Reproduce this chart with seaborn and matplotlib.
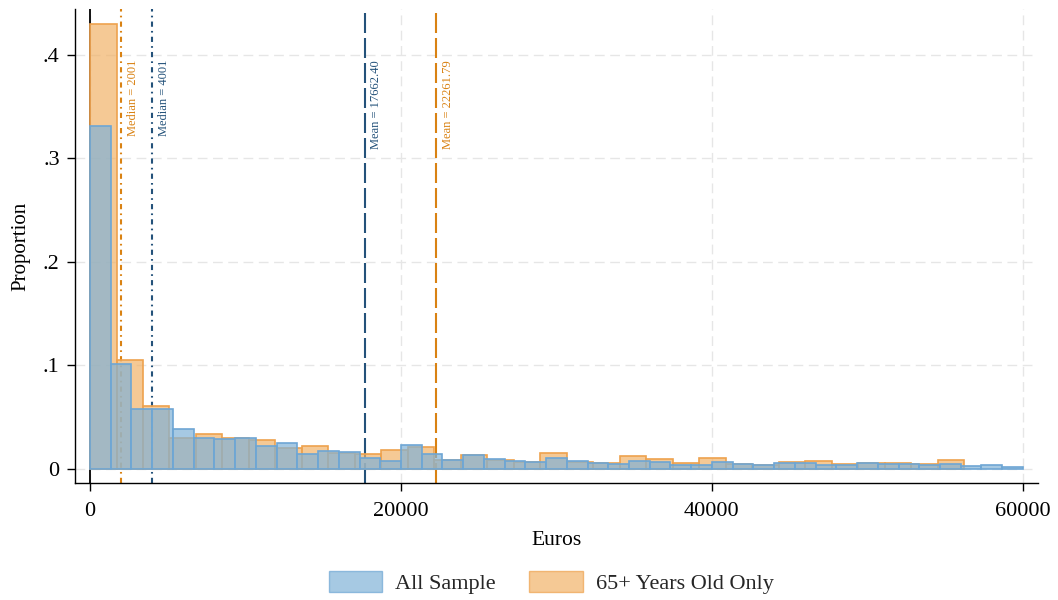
import numpy as np
import pandas as pd
import matplotlib
matplotlib.use("Agg")
import matplotlib.pyplot as plt
import matplotlib.transforms as mtransforms
from matplotlib.patches import Patch
import seaborn as sns

# histogram bins
all_nbins, all_top = 45, 60000.0
old_nbins, old_top = 33, 56225.0

# share of people per bin (fraction)
all_share = [0.331, 0.1013, 0.058, 0.058, 0.038, 0.030, 0.0284, 0.030, 0.0216, 0.025,
             0.0145, 0.0168, 0.016, 0.0103, 0.0074, 0.0226, 0.0142, 0.0087, 0.0129, 0.0097,
             0.0074, 0.006, 0.0106, 0.0071, 0.0054, 0.0048, 0.0074, 0.006, 0.0039, 0.0039,
             0.0068, 0.0045, 0.0032, 0.0054, 0.005, 0.0039, 0.0032, 0.0054, 0.004, 0.0048,
             0.0032, 0.0048, 0.0026, 0.0035, 0.0013]
old_share = [0.430, 0.105, 0.0606, 0.030, 0.0339, 0.0295, 0.0277, 0.020, 0.0219, 0.0155,
             0.0145, 0.0177, 0.021, 0.008, 0.0135, 0.0085, 0.006, 0.0155, 0.0068, 0.005,
             0.0122, 0.0097, 0.0058, 0.0106, 0.004, 0.0035, 0.006, 0.0071, 0.004, 0.0058,
             0.0054, 0.0048, 0.0084]

all_mean, all_median = 17662.40, 4001
old_mean, old_median = 22261.79, 2001

blue = "#80b2d8"
blue_edge = "#6ea6d4"
orange = "#f1b268"
orange_edge = "#eea24e"
navy = "#24527a"
dark_orange = "#d98213"

sns.set_theme(style="white")
plt.rcParams["font.family"] = ["Liberation Serif", "DejaVu Serif"]

fig, ax = plt.subplots(figsize=(10.58, 6), dpi=100)
fig.subplots_adjust(left=0.0709, right=0.981, bottom=0.195, top=0.985)

all_edges = np.linspace(0, all_top, all_nbins + 1)
old_edges = np.linspace(0, old_top, old_nbins + 1)
df_all = pd.DataFrame({"euros": (all_edges[:-1] + all_edges[1:]) / 2, "share": all_share})
df_old = pd.DataFrame({"euros": (old_edges[:-1] + old_edges[1:]) / 2, "share": old_share})

sns.histplot(data=df_old, x="euros", weights="share", bins=list(old_edges), stat="count",
             color=orange, edgecolor=orange_edge, alpha=0.7, linewidth=1.2, ax=ax, zorder=2)
sns.histplot(data=df_all, x="euros", weights="share", bins=list(all_edges), stat="count",
             color=blue, edgecolor=blue_edge, alpha=0.7, linewidth=1.2, ax=ax, zorder=2)

ax.axvline(0, color="black", lw=1.3, zorder=1)

ax.axvline(old_median, color=dark_orange, lw=1.5, ls=(0, (2.5, 2, 0.8, 2)), zorder=1.5)
ax.axvline(all_median, color=navy, lw=1.5, ls=(0, (2.5, 2, 0.8, 2)), zorder=1.5)
ax.axvline(all_mean, color=navy, lw=1.5, ls=(0, (9.6, 2.4)), zorder=1.5)
ax.axvline(old_mean, color=dark_orange, lw=1.5, ls=(0, (9.6, 2.4)), zorder=1.5)

shift = mtransforms.offset_copy(ax.transData, fig=fig, x=4, y=0, units="points")
labels = [
    (old_median, f"Median = {old_median}", dark_orange),
    (all_median, f"Median = {all_median}", navy),
    (all_mean, f"Mean = {all_mean:.2f}", navy),
    (old_mean, f"Mean = {old_mean:.2f}", dark_orange),
]
for xv, txt, col in labels:
    ax.text(xv, 0.395, txt, rotation=90, ha="left", va="top", color=col,
            fontsize=9, transform=shift)

ax.set_xlim(-965, 60965)
ax.set_ylim(-0.0139, 0.4443)
ax.set_xticks([0, 20000, 40000, 60000])
ax.set_xticklabels(["0", "20000", "40000", "60000"])
ax.set_yticks([0, 0.1, 0.2, 0.3, 0.4])
ax.set_yticklabels(["0", ".1", ".2", ".3", ".4"])

ax.grid(True, color="#e6e6e6", lw=1, ls=(0, (7, 4)))
ax.set_axisbelow(True)
for s in ["top", "right"]:
    ax.spines[s].set_visible(False)
for s in ["left", "bottom"]:
    ax.spines[s].set_color("black")
    ax.spines[s].set_linewidth(1)
ax.tick_params(axis="both", which="major", length=6, width=1, color="black",
               labelsize=16, pad=5, bottom=True, left=True, labelcolor="black")
ax.tick_params(axis="x", pad=8)

ax.set_xlabel("Euros", fontsize=15.5, color="black", labelpad=7)
ax.set_ylabel("Proportion", fontsize=15, color="black", labelpad=9)

handles = [Patch(facecolor=blue, edgecolor=blue_edge, alpha=0.7, label="All Sample"),
           Patch(facecolor=orange, edgecolor=orange_edge, alpha=0.7, label="65+ Years Old Only")]
fig.legend(handles=handles, loc="center", bbox_to_anchor=(0.521, 0.029), ncol=2,
           frameon=False, fontsize=16, handlelength=2.4, handleheight=1.1,
           handletextpad=0.6, columnspacing=1.5)

fig.savefig("out.png", dpi=100)
